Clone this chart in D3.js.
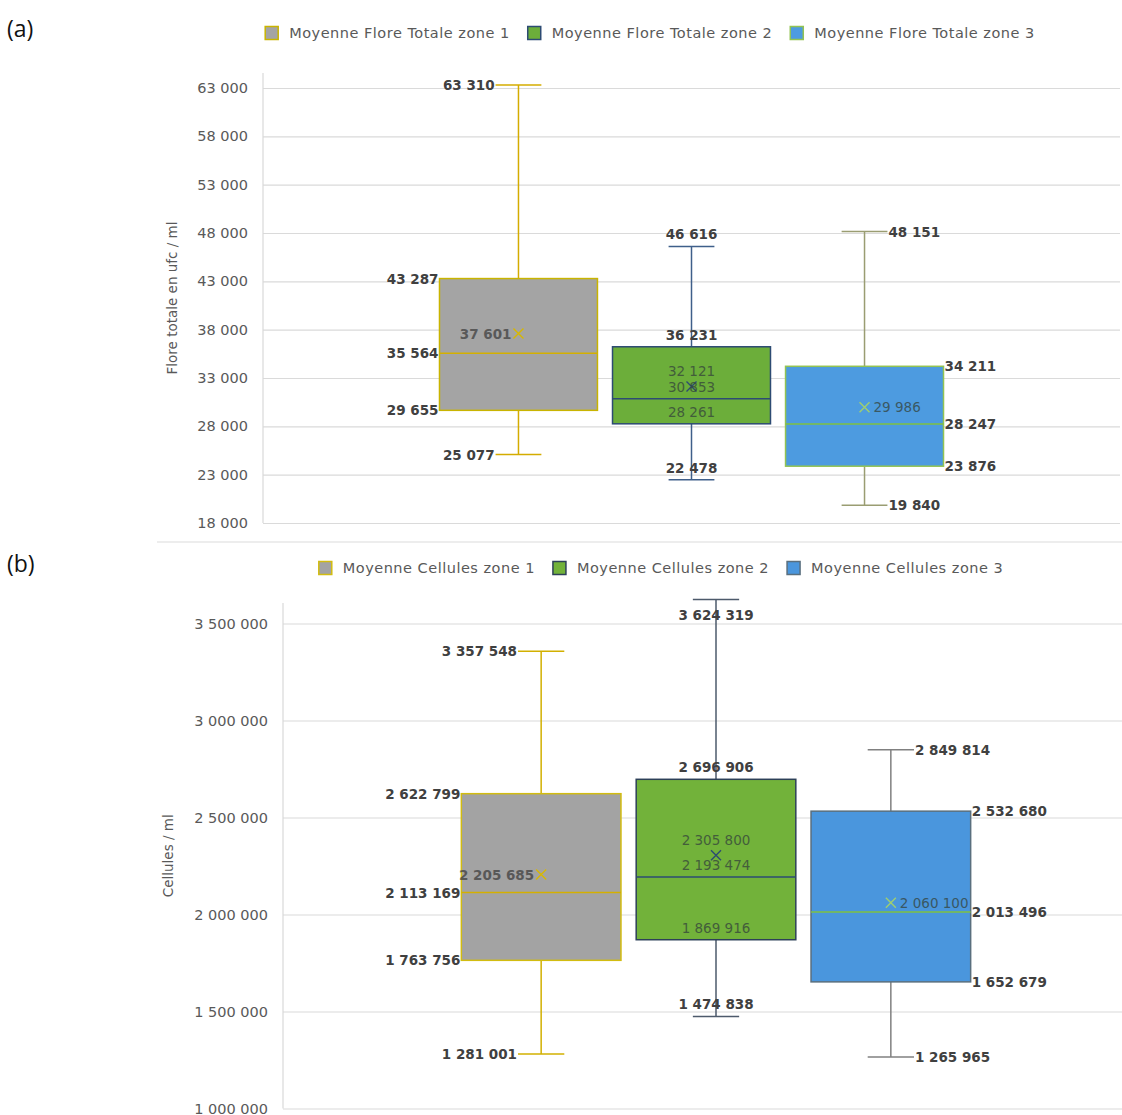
<!DOCTYPE html>
<html>
<head>
<meta charset="utf-8">
<script src="https://cdn.jsdelivr.net/npm/d3@7"></script>
<style>
  html, body { margin: 0; padding: 0; background: #ffffff; }
  svg { display: block; }
</style>
</head>
<body>
<svg id="chart" width="1122" height="1115"></svg>
<script>
// ---- Data: Flore totale (ufc / ml) per zone ----
const floreZones  = ["Moyenne Flore Totale zone 1", "Moyenne Flore Totale zone 2", "Moyenne Flore Totale zone 3"];
const floreMin    = [25077, 22478, 19840];
const floreQ1     = [29655, 28261, 23876];
const floreMedian = [35564, 30853, 28247];
const floreQ3     = [43287, 36231, 34211];
const floreMax    = [63310, 46616, 48151];
const floreMean   = [37601, 32121, 29986];
const floreTicks  = [18000, 23000, 28000, 33000, 38000, 43000, 48000, 53000, 58000, 63000];

// ---- Data: Cellules / ml per zone ----
const cellZones  = ["Moyenne Cellules zone 1", "Moyenne Cellules zone 2", "Moyenne Cellules zone 3"];
const cellMin    = [1281001, 1474838, 1265965];
const cellQ1     = [1763756, 1869916, 1652679];
const cellMedian = [2113169, 2193474, 2013496];
const cellQ3     = [2622799, 2696906, 2532680];
const cellMax    = [3357548, 3624319, 2849814];
const cellMean   = [2205685, 2305800, 2060100];
const cellTicks  = [1000000, 1500000, 2000000, 2500000, 3000000, 3500000];

// French number format: "63 310"
const locale = d3.formatLocale({ decimal: ",", thousands: " ", grouping: [3], currency: ["", " €"] });
const fmt = locale.format(",d");

const FONT = "'DejaVu Sans', 'Liberation Sans', sans-serif";
const svg = d3.select("#chart");

// where each series puts its value labels
const labelSide = ["left", "center", "right"];

const panels = [
  {
    tag: "(a)", tagY: 37,
    zones: floreZones, min: floreMin, q1: floreQ1, median: floreMedian, q3: floreQ3, max: floreMax, mean: floreMean,
    ticks: floreTicks, yDomain: [18000, 63000], yRange: [523, 88],
    plotLeft: 263, plotRight: 1120, plotTop: 73, bandRange: [263, 1120],
    title: "Flore totale en ufc / ml", titleX: 172,
    legendY: 33, legendCx: 650,
    fill:    ["#a4a4a4", "#6cae3a", "#4d9be0"],
    stroke:  ["#c9b400", "#2d4b73", "#92c353"],
    whisker: ["#d4ac00", "#3f5f8a", "#9a9d72"],
    medianC: ["#d4b000", "#2d4b73", "#7fc040"],
    meanC:   ["#d8b800", "#2d4b73", "#9fcf70"]
  },
  {
    tag: "(b)", tagY: 572,
    zones: cellZones, min: cellMin, q1: cellQ1, median: cellMedian, q3: cellQ3, max: cellMax, mean: cellMean,
    ticks: cellTicks, yDomain: [1000000, 3500000], yRange: [1108.5, 623.5],
    plotLeft: 283, plotRight: 1122, plotTop: 603, bandRange: [283, 1149],
    title: "Cellules / ml", titleX: 168,
    legendY: 568, legendCx: 661,
    fill:    ["#a3a3a3", "#72b23a", "#4a96dd"],
    stroke:  ["#d2bc10", "#2d4058", "#5a6f7e"],
    whisker: ["#d2b000", "#4d5a6b", "#808080"],
    medianC: ["#d4b000", "#2d4b73", "#7fc040"],
    meanC:   ["#d8b800", "#2d4b73", "#9fcf70"]
  }
];

function drawPanel(p) {
  const g = svg.append("g");
  const y = d3.scaleLinear().domain(p.yDomain).range(p.yRange);
  const x = d3.scaleBand().domain(p.zones).range(p.bandRange).paddingInner(0.087).paddingOuter(1.02);
  const bw = x.bandwidth();
  const capHalf = bw * 0.145;

  // gridlines and tick labels
  const axis = d3.axisLeft(y).tickValues(p.ticks).tickFormat(fmt)
    .tickSizeInner(-(p.plotRight - p.plotLeft)).tickSizeOuter(0).tickPadding(15);
  const ag = g.append("g").attr("transform", `translate(${p.plotLeft},0)`).call(axis);
  ag.select(".domain").remove();
  ag.selectAll(".tick line").attr("stroke", "#dadada").attr("stroke-width", 1.2);
  ag.selectAll(".tick text").attr("fill", "#595959").style("font-family", FONT).style("font-size", "14.5px");

  // vertical axis line
  g.append("line")
    .attr("x1", p.plotLeft).attr("x2", p.plotLeft)
    .attr("y1", p.plotTop).attr("y2", y(p.yDomain[0]))
    .attr("stroke", "#d9d9d9").attr("stroke-width", 1.2);

  // axis title
  g.append("text")
    .attr("transform", `translate(${p.titleX},${(p.plotTop + y(p.yDomain[0])) / 2}) rotate(-90)`)
    .attr("text-anchor", "middle").attr("dominant-baseline", "central")
    .attr("fill", "#595959").style("font-family", FONT).style("font-size", "13.5px")
    .text(p.title);

  // panel tag
  svg.append("text").attr("x", 7).attr("y", p.tagY)
    .attr("fill", "#111").style("font-family", "'Open Sans', sans-serif").style("font-size", "23px")
    .text(p.tag);

  const series = p.zones.map((z, i) => ({
    zone: z, i,
    min: p.min[i], q1: p.q1[i], median: p.median[i], q3: p.q3[i], max: p.max[i], mean: p.mean[i]
  }));

  const boxes = g.selectAll("g.box").data(series).join("g").attr("class", "box");

  boxes.each(function (d) {
    const b = d3.select(this);
    const cx = x(d.zone) + bw / 2;
    const col = p.whisker[d.i];
    // whiskers and caps
    b.append("line").attr("x1", cx).attr("x2", cx).attr("y1", y(d.max)).attr("y2", y(d.q3))
      .attr("stroke", col).attr("stroke-width", 1.5);
    b.append("line").attr("x1", cx).attr("x2", cx).attr("y1", y(d.q1)).attr("y2", y(d.min))
      .attr("stroke", col).attr("stroke-width", 1.5);
    [d.max, d.min].forEach(v => {
      b.append("line").attr("x1", cx - capHalf).attr("x2", cx + capHalf).attr("y1", y(v)).attr("y2", y(v))
        .attr("stroke", col).attr("stroke-width", 1.5);
    });
    // box
    b.append("rect")
      .attr("x", x(d.zone)).attr("y", y(d.q3))
      .attr("width", bw).attr("height", y(d.q1) - y(d.q3))
      .attr("fill", p.fill[d.i]).attr("stroke", p.stroke[d.i]).attr("stroke-width", 1.5);
    // median
    b.append("line").attr("x1", x(d.zone)).attr("x2", x(d.zone) + bw)
      .attr("y1", y(d.median)).attr("y2", y(d.median))
      .attr("stroke", p.medianC[d.i]).attr("stroke-width", 1.5);
    // mean marker (x)
    const my = y(d.mean), s = 5;
    b.append("path")
      .attr("d", `M${cx - s},${my - s}L${cx + s},${my + s}M${cx - s},${my + s}L${cx + s},${my - s}`)
      .attr("stroke", p.meanC[d.i]).attr("stroke-width", 1.4).attr("fill", "none");

    // value labels
    const side = labelSide[d.i];
    const items = [
      { v: d.max, kind: "whisker" }, { v: d.q3, kind: "box" }, { v: d.median, kind: "box" },
      { v: d.q1, kind: "box" }, { v: d.min, kind: "whisker" }, { v: d.mean, kind: "mean" }
    ];
    items.forEach(it => {
      let tx, ty = y(it.v), anchor;
      const inside = it.kind === "mean" || (side === "center" && (it.v === d.median || it.v === d.q1));
      if (side === "left") {
        anchor = "end";
        tx = it.kind === "whisker" ? cx - capHalf - 1 : it.kind === "box" ? x(d.zone) - 1 : cx - 7;
      } else if (side === "right") {
        anchor = "start";
        tx = it.kind === "whisker" ? cx + capHalf + 1 : it.kind === "box" ? x(d.zone) + bw + 1 : cx + 9;
      } else {
        anchor = "middle";
        tx = cx;
        ty = Math.max(ty - (it.kind === "mean" ? 15 : 12), p.plotTop + 12);
      }
      b.append("text")
        .attr("x", tx).attr("y", ty)
        .attr("text-anchor", anchor).attr("dominant-baseline", "central")
        .attr("fill", inside && side !== "left" ? "#34433a" : "#404040")
        .attr("opacity", inside ? 0.75 : 1)
        .style("font-family", FONT).style("font-size", "13.5px")
        .style("font-weight", inside && side !== "left" ? "normal" : "bold")
        .text(fmt(it.v));
    });
  });

  // legend, centred above the plot
  const lg = g.append("g");
  const items = lg.selectAll("g").data(series).join("g");
  items.append("rect").attr("width", 13).attr("height", 13).attr("y", p.legendY - 6.5)
    .attr("fill", d => p.fill[d.i]).attr("stroke", d => p.stroke[d.i]).attr("stroke-width", 1.5);
  items.append("text").attr("x", 24).attr("y", p.legendY).attr("dominant-baseline", "central")
    .attr("fill", "#595959").style("font-family", FONT).style("font-size", "14.5px")
    .style("letter-spacing", "0.5px")
    .text(d => d.zone);
  const widths = [];
  items.each(function () { widths.push(24 + d3.select(this).select("text").node().getComputedTextLength()); });
  const gap = 18;
  const total = d3.sum(widths) + gap * (widths.length - 1);
  let cursor = p.legendCx - total / 2;
  items.each(function (d, k) {
    d3.select(this).attr("transform", `translate(${cursor},0)`);
    cursor += widths[k] + gap;
  });
}

panels.forEach(drawPanel);

// thin separator below the first chart
svg.append("line").attr("x1", 157).attr("x2", 1122).attr("y1", 542).attr("y2", 542)
  .attr("stroke", "#dcdcdc").attr("stroke-width", 1.2);
</script>
</body>
</html>
